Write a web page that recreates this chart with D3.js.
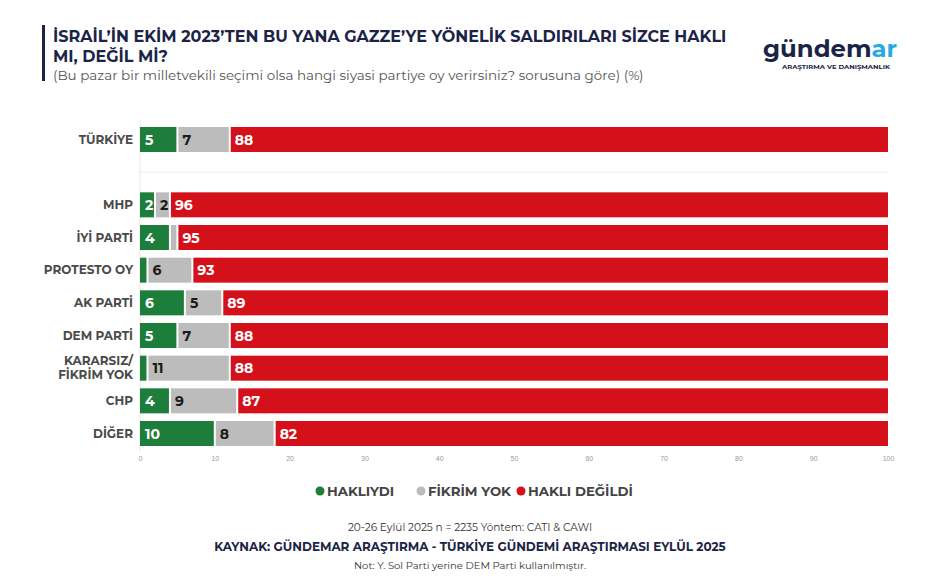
<!DOCTYPE html>
<html>
<head>
<meta charset="utf-8">
<script src="https://cdnjs.cloudflare.com/ajax/libs/d3/7.8.5/d3.min.js"></script>
<style>
  body { margin: 0; background: #fff; }
  svg { font-family: "Montserrat", "Inter", "Open Sans", sans-serif; }
  .cat { font-size: 12px; font-weight: 700; fill: #4a4a4a; }
  .val { font-size: 14px; font-weight: 700; }
</style>
</head>
<body>
<script>
var categories = ["TÜRKİYE", "", "MHP", "İYİ PARTİ", "PROTESTO OY", "AK PARTİ", "DEM PARTİ", "KARARSIZ/\nFİKRİM YOK", "CHP", "DİĞER"]
var hakliydi   = [5, null, 2, 4, 1, 6, 5, 1, 4, 10]
var fikrimYok  = [7, null, 2, 1, 6, 5, 7, 11, 9, 8]
var hakliDegil = [88, null, 96, 95, 93, 89, 88, 88, 87, 82]
var seriesNames = ["HAKLIYDI", "FİKRİM YOK", "HAKLI DEĞİLDİ"]
var colors = ["#1d7d3a", "#bcbcbc", "#d4111b"]
var textColors = ["#fff", "#1a1a1a", "#fff"]
var ticks = [0, 10, 20, 30, 40, 50, 60, 70, 80, 90, 100]

var W = 940, H = 585
var svg = d3.select("body").append("svg").attr("width", W).attr("height", H)

// header
svg.append("rect").attr("x", 42).attr("y", 25).attr("width", 3).attr("height", 56).attr("fill", "#1b2447")
svg.append("text").attr("x", 53).attr("y", 42).attr("font-size", 16).attr("font-weight", 700).attr("fill", "#1b2447")
  .text("İSRAİL’İN EKİM 2023’TEN BU YANA GAZZE’YE YÖNELİK SALDIRILARI SİZCE HAKLI")
svg.append("text").attr("x", 53).attr("y", 62).attr("font-size", 16).attr("font-weight", 700).attr("fill", "#1b2447")
  .text("MI, DEĞİL Mİ?")
svg.append("text").attr("x", 53).attr("y", 80).attr("font-size", 13.5).attr("fill", "#555")
  .text("(Bu pazar bir milletvekili seçimi olsa hangi siyasi partiye oy verirsiniz? sorusuna göre) (%)")

// logo
var logo = svg.append("text").attr("x", 763).attr("y", 57).attr("font-size", 24).attr("font-weight", 700)
  .attr("textLength", 134).attr("lengthAdjust", "spacingAndGlyphs")
logo.append("tspan").attr("fill", "#1b2447").text("gündem")
logo.append("tspan").attr("fill", "#2aa9e0").text("ar")
svg.append("text").attr("x", 782).attr("y", 69).attr("font-size", 5)
  .attr("font-weight", 700).attr("textLength", 108).attr("lengthAdjust", "spacingAndGlyphs")
  .attr("fill", "#1b2447").text("ARAŞTIRMA VE DANIŞMANLIK")

// scales
var x = d3.scaleLinear().domain([0, 100]).range([140, 888])
var y = d3.scalePoint().domain(d3.range(categories.length)).range([139.5, 433.5])
var barH = 25

// axis
var axis = svg.append("g").attr("transform", "translate(0,450)")
  .call(d3.axisBottom(x).tickValues(ticks).tickSize(0).tickPadding(6))
axis.select(".domain").remove()
axis.selectAll("text").attr("font-size", 7).attr("fill", "#999")

svg.append("line").attr("x1", x(0)).attr("x2", x(0)).attr("y1", 120).attr("y2", 451).attr("stroke", "#e6e6e6")
svg.append("line").attr("x1", x(0)).attr("x2", x(100)).attr("y1", y(1)).attr("y2", y(1)).attr("stroke", "#ececec")

var series = [hakliydi, fikrimYok, hakliDegil]
var rows = categories.map(function(c, i) { return i }).filter(function(i) { return hakliydi[i] != null })

rows.forEach(function(i) {
  var start = 0
  series.forEach(function(s, k) {
    var v = s[i]
    var x0 = x(start), x1 = x(start + v)
    svg.append("rect")
      .attr("x", x0 + (k > 0 ? 1 : 0)).attr("y", y(i) - barH / 2)
      .attr("width", Math.max(0, x1 - x0 - (k > 0 ? 1 : 0) - (k < 2 ? 1 : 0)))
      .attr("height", barH).attr("fill", colors[k])
    if (v >= 2) {
      svg.append("text").attr("class", "val").attr("x", x0 + 5).attr("y", y(i) + 5)
        .attr("fill", textColors[k]).text(v)
    }
    start += v
  })
  var lines = categories[i].split("\n")
  var t = svg.append("text").attr("class", "cat").attr("text-anchor", "end").attr("x", 133)
    .attr("y", y(i) + 4 - (lines.length - 1) * 7)
  lines.forEach(function(l, j) {
    t.append("tspan").attr("x", 133).attr("dy", j ? 14 : 0).text(l)
  })
})

// legend
var legX = [320, 421, 521]
seriesNames.forEach(function(n, k) {
  svg.append("circle").attr("cx", legX[k]).attr("cy", 491).attr("r", 4.5).attr("fill", colors[k])
  svg.append("text").attr("x", legX[k] + 7).attr("y", 496).attr("font-size", 13.3).attr("font-weight", 700)
    .attr("fill", "#444").text(n)
})

// footer
svg.append("text").attr("x", 470).attr("y", 531).attr("text-anchor", "middle").attr("font-size", 10.5).attr("fill", "#333")
  .text("20-26 Eylül 2025 n = 2235 Yöntem: CATI & CAWI")
svg.append("text").attr("x", 470).attr("y", 551).attr("text-anchor", "middle").attr("font-size", 12).attr("font-weight", 700).attr("fill", "#1b2447")
  .text("KAYNAK: GÜNDEMAR ARAŞTIRMA - TÜRKİYE GÜNDEMİ ARAŞTIRMASI EYLÜL 2025")
svg.append("text").attr("x", 470).attr("y", 569).attr("text-anchor", "middle").attr("font-size", 10).attr("fill", "#333")
  .text("Not: Y. Sol Parti yerine DEM Parti kullanılmıştır.")
</script>
</body>
</html>
